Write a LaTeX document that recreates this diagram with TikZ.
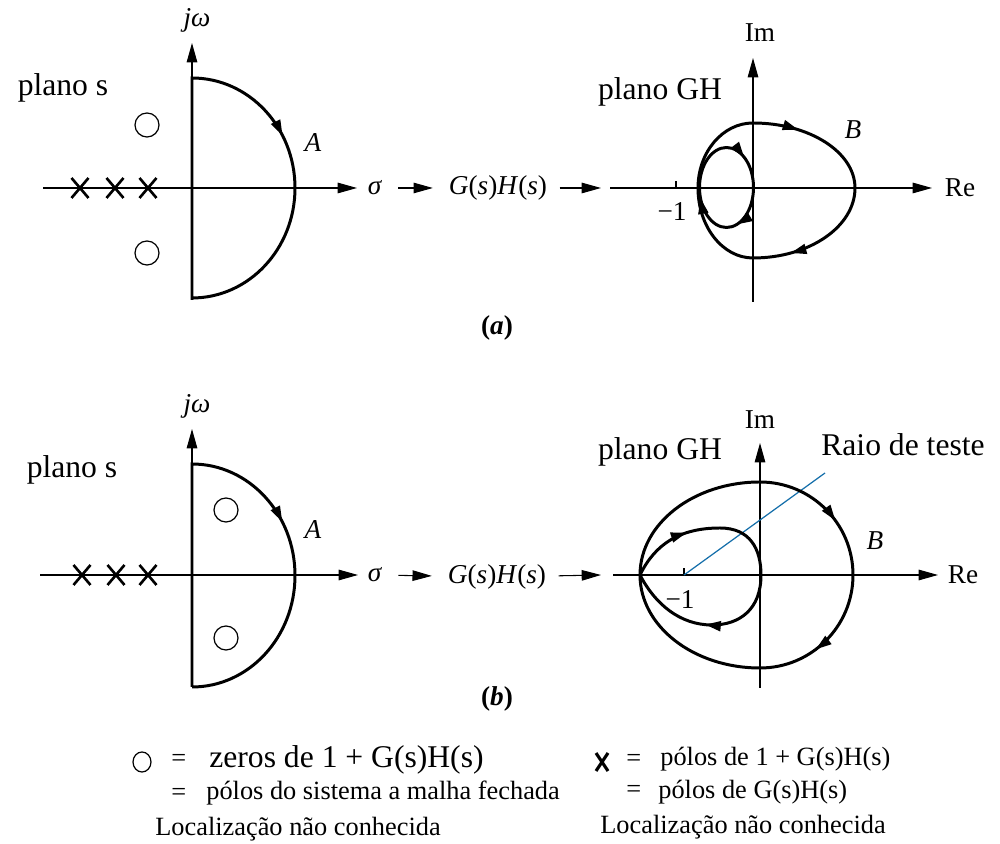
\documentclass[tikz,border=0pt]{standalone}
\usepackage{fontspec}
\setmainfont{Liberation Serif}
\usetikzlibrary{arrows.meta,decorations.markings}
\definecolor{raio}{RGB}{20,110,170}

\begin{document}
\begin{tikzpicture}[x=0.02cm,y=0.02cm,>={Triangle[length=11pt,width=6pt]},
  axis/.style={line width=0.6pt,->},
  curve/.style={line width=1.7pt},
  cross/.style={line width=1.5pt},
  zero/.style={line width=0.7pt},
  conn/.style={->,line width=0.6pt},
  arrowat/.style={postaction={decorate,decoration={markings,
    mark=at position #1 with {\arrow{Triangle[length=9pt,width=5.5pt]}}}}},
  big/.style={font=\fontsize{18}{21}\selectfont,inner sep=0pt},
  lab/.style={font=\fontsize{15.5}{18}\selectfont,inner sep=0pt},
  leg/.style={font=\fontsize{15}{18}\selectfont,inner sep=0pt,anchor=west}]
  \useasboundingbox (0,0) rectangle (1000,844);

  % (a) plano s
  \draw[axis] (43,656) -- (357,656);
  \draw[axis] (192,544) -- (192,801);
  \draw[curve,arrowat=0.6] (192,544) -- (192,766)
    arc[start angle=90,end angle=-90,x radius=103,y radius=110] -- cycle;
  \foreach \x in {80,115,148}
    \draw[cross] (\x,656) +(-8.5,-10) -- +(8.5,10) (\x,656) +(-8.5,10) -- +(8.5,-10);
  \draw[zero] (147,719) circle[radius=12] (147,591) circle[radius=12];
  \node[lab] (jwA) at (197,824) {\textit{jω}};
  \node[big] (planosA) at (63,756) {plano s};
  \node[lab] (contA) at (313,701) {\textit{A}};
  \node[lab] (sigA) at (375,656) {\textit{σ}};
  \node[lab] (ghA) at (498,656) {\textit{G}(\textit{s})\textit{H}(\textit{s})};
  \coordinate (inA) at (601,656);
  \draw[conn,shorten <=9pt,shorten >=9pt] (sigA) -- (ghA);
  \draw[conn,shorten <=7pt] (ghA) -- (inA);

  % (a) plano GH
  \draw[axis] (610,656) -- (932,656);
  \draw[axis] (753,542) -- (753,786);
  \draw[line width=0.6pt] (676,656) -- (676,663);
  \draw[curve,arrowat=0.1,arrowat=0.5] (753,721)
    arc[start angle=90,end angle=0,x radius=102,y radius=65]
    arc[start angle=0,end angle=-90,x radius=102,y radius=70]
    arc[start angle=270,end angle=180,x radius=55,y radius=70]
    arc[start angle=180,end angle=90,x radius=55,y radius=65] -- cycle;
  \draw[curve,arrowat=0.1,arrowat=0.45,arrowat=0.7] (726.5,696.5)
    arc[start angle=90,end angle=-270,x radius=27,y radius=40];
  \node[lab] (imA) at (760,811) {Im};
  \node[lab] (reA) at (960,656) {Re};
  \node[big] (planoghA) at (660,752) {plano GH};
  \node[lab] (m1A) at (672,632) {−1};
  \node[lab] (bA) at (853,714) {\textit{B}};
  \node[lab] (capA) at (497,516) {\textbf{(\textit{a})}};

  % (b) plano s
  \draw[axis] (40,269) -- (358,269);
  \draw[axis] (192,157) -- (192,415);
  \draw[curve,arrowat=0.6] (192,157) -- (192,380)
    arc[start angle=90,end angle=-90,x radius=103,y radius=111.5] -- cycle;
  \foreach \x in {82,116,148}
    \draw[cross] (\x,269) +(-8.5,-10) -- +(8.5,10) (\x,269) +(-8.5,10) -- +(8.5,-10);
  \draw[zero] (226,334) circle[radius=12] (226,206) circle[radius=12];
  \node[lab] (jwB) at (197,438) {\textit{jω}};
  \node[big] (planosB) at (72,374) {plano s};
  \node[lab] (contB) at (313,314) {\textit{A}};
  \node[lab] (sigB) at (375,269) {\textit{σ}};
  \node[lab] (ghB) at (497,267) {\textit{G}(\textit{s})\textit{H}(\textit{s})};
  \coordinate (inB) at (601,269);
  \draw[conn,shorten <=9pt,shorten >=9pt] (sigB) -- (ghB);
  \draw[conn,shorten <=7pt] (ghB) -- (inB);

  % (b) plano GH
  \draw[axis] (613,269) -- (938,269);
  \draw[axis] (760,156) -- (760,401);
  \draw[line width=0.6pt] (684,269) -- (684,276);
  \coordinate (m1pt) at (684,269);
  \coordinate (raioend) at (825,371);
  \draw[raio,line width=0.7pt] (m1pt) -- (raioend);
  \draw[curve,arrowat=0.14,arrowat=0.37] (760,362)
    arc[start angle=90,end angle=0,x radius=93,y radius=93]
    arc[start angle=0,end angle=-90,x radius=93,y radius=93]
    arc[start angle=270,end angle=180,x radius=120,y radius=93]
    arc[start angle=180,end angle=90,x radius=120,y radius=93] -- cycle;
  \draw[curve,arrowat=0.19,arrowat=0.75] (640,269)
    .. controls (655,300) and (680,316) .. (720,316)
    .. controls (750,316) and (761,295) .. (761,269)
    .. controls (761,235) and (740,219) .. (712,219)
    .. controls (680,219) and (655,240) .. (640,269);
  \node[lab] (imB) at (760,424) {Im};
  \node[lab] (reB) at (963,269) {Re};
  \node[big] (planoghB) at (660,392) {plano GH};
  \node[big] (raio) at (903,399) {Raio de teste};
  \node[lab] (m1B) at (680,244) {−1};
  \node[lab] (bB) at (875,303) {\textit{B}};
  \node[lab] (capB) at (497,145) {\textbf{(\textit{b})}};

  % legenda
  \draw[zero] (142,82) ellipse[x radius=9,y radius=10];
  \node[leg] (eq1) at (171,84) {=};
  \node[leg,font=\fontsize{18}{21}\selectfont] (zeros) at (209,84) {zeros de 1 + G(s)H(s)};
  \node[leg] (eq2) at (171,50) {=};
  \node[leg] (polosmf) at (206,51) {pólos do sistema a malha fechada};
  \node[leg] (locz) at (155,15) {Localização não conhecida};
  \draw[cross,line width=1.8pt] (602,82) +(-6,-9) -- +(6,9) (602,82) +(-6,9) -- +(6,-9);
  \node[leg] (eq3) at (626,84) {=};
  \node[leg] (polos1gh) at (660,85) {pólos de 1 + G(s)H(s)};
  \node[leg] (eq4) at (626,53) {=};
  \node[leg] (polosgh) at (658,52) {pólos de G(s)H(s)};
  \node[leg] (locp) at (600,17) {Localização não conhecida};
\end{tikzpicture}
\end{document}
